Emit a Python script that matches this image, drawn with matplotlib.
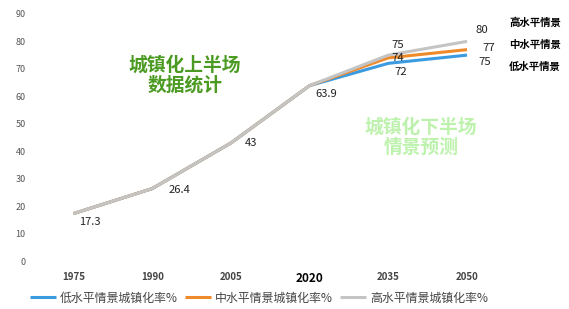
import matplotlib.pyplot as plt

plt.rcParams['font.family'] = ['Noto Sans CJK SC', 'DejaVu Sans']

# ================= DATA =================

years = ["1975", "1990", "2005", "2020", "2035", "2050"]
low = [17.3, 26.4, 43, 63.9, 72, 75]
mid = [17.3, 26.4, 43, 63.9, 74, 77]
high = [17.3, 26.4, 43, 63.9, 75, 80]
series_names = ["低水平情景城镇化率%", "中水平情景城镇化率%", "高水平情景城镇化率%"]
end_labels = ["低水平情景", "中水平情景", "高水平情景"]
colors = ["#3b9be0", "#ee8a2a", "#c4c4c4"]

# ================= PLOT =================

fig = plt.figure(figsize=(5.69, 3.09), dpi=100)
ax = fig.add_axes([0.06, 0.155, 0.83, 0.80])

x = list(range(len(years)))
for vals, c, name in zip([low, mid, high], colors, series_names):
    ax.plot(x, vals, color=c, lw=2.2, label=name, solid_capstyle="butt")

ax.set_xlim(-0.5, 5.5)
ax.set_ylim(0, 90)
ax.set_yticks(range(0, 91, 10))
ax.set_xticks(x)
ax.set_xticklabels(years)
for s in ax.spines.values():
    s.set_visible(False)
ax.tick_params(axis="both", length=0)
ax.tick_params(axis="y", labelsize=6.5, labelcolor="#555555", pad=6)
ax.tick_params(axis="x", labelsize=7, labelcolor="#444444", pad=8)
for lbl in ax.get_xticklabels():
    lbl.set_fontweight("bold")
    if lbl.get_text() == "2020":
        lbl.set_fontsize(8.5)
        lbl.set_color("black")

# data labels for the shared part
shared_off = [(4, -6), (12, -1), (10, 0), (4, -6)]
for i, (dx, dy) in enumerate(shared_off):
    ax.annotate(f"{low[i]:g}", (x[i], low[i]), xytext=(dx, dy),
                textcoords="offset points", fontsize=8, color="#222222",
                va="center", ha="left")

# scenario labels
lbl_kw = dict(textcoords="offset points", fontsize=8.2, color="#222222",
              va="center", ha="left")
ax.annotate(f"{high[4]:g}", (x[4], high[4]), xytext=(2, 7), **lbl_kw)
ax.annotate(f"{mid[4]:g}", (x[4], mid[4]), xytext=(2, 0), **lbl_kw)
ax.annotate(f"{low[4]:g}", (x[4], low[4]), xytext=(4, -6), **lbl_kw)
ax.annotate(f"{high[5]:g}", (x[5], high[5]), xytext=(6, 8), **lbl_kw)
ax.annotate(f"{mid[5]:g}", (x[5], mid[5]), xytext=(11, 1), **lbl_kw)
ax.annotate(f"{low[5]:g}", (x[5], low[5]), xytext=(8, -5), **lbl_kw)

# scenario names at right
for txt, yy in zip(end_labels, [0.785, 0.855, 0.928]):
    fig.text(0.895, yy, txt, fontsize=7.5, fontweight="bold", color="black",
             ha="left", va="center")

fig.text(0.325, 0.757, "城镇化上半场\n数据统计", fontsize=13.5, fontweight="bold",
         color="#4b9a22", ha="center", va="center", linespacing=1.1)
fig.text(0.74, 0.555, "城镇化下半场\n情景预测", fontsize=13.5, fontweight="bold",
         color="#bdf2ad", ha="center", va="center", linespacing=1.1)

fig.legend(loc="lower center", bbox_to_anchor=(0.455, -0.02), ncol=3, frameon=False,
           fontsize=8.6, handlelength=2.2, columnspacing=0.6, handletextpad=0.3,
           labelcolor="#444444")

fig.savefig("out.png", dpi=100)
